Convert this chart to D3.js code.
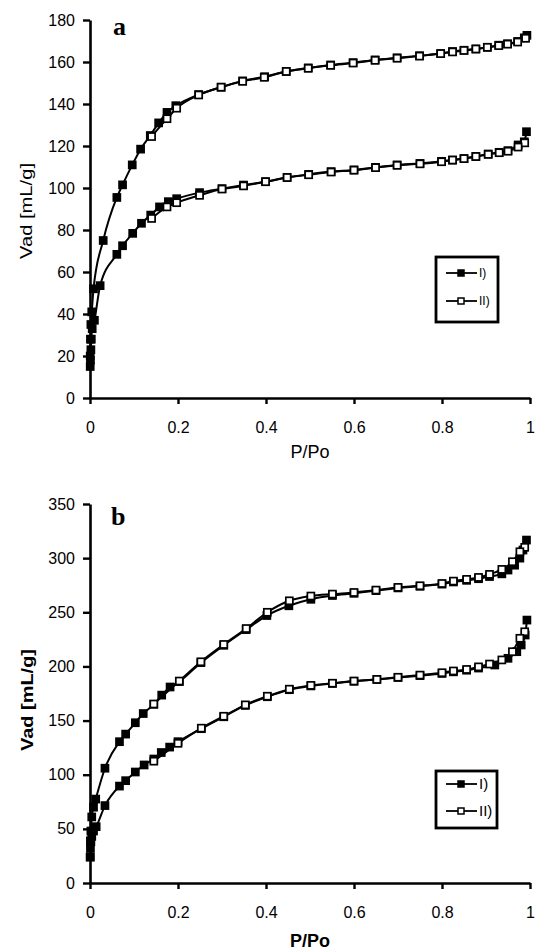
<!DOCTYPE html>
<html>
<head>
<meta charset="utf-8">
<script src="https://cdn.jsdelivr.net/npm/d3@7"></script>
<style>
  body { margin: 0; background: #fff; }
  svg { display: block; }
</style>
</head>
<body>
<div id="chart"></div>
<script>
// ---- panel a ----
const aUpperI_p = [0.0005, 0.001, 0.002, 0.004, 0.008, 0.03, 0.061, 0.074, 0.096, 0.115, 0.137, 0.156, 0.175, 0.195, 0.247, 0.298, 0.347, 0.397, 0.446, 0.496, 0.547, 0.598, 0.648, 0.698, 0.749, 0.797, 0.824, 0.85, 0.877, 0.903, 0.929, 0.949, 0.972, 0.987, 0.993]
const aUpperI_v = [20, 28, 35, 41, 52, 75, 95.5, 101.5, 111, 118.5, 125, 131, 136, 139.2, 144.5, 148, 151, 153, 155.5, 157.2, 158.6, 159.7, 161, 162, 163, 164, 165, 165.6, 166.2, 167, 168, 168.7, 169.8, 171.5, 172.7]
const aUpperII_p = [0.99, 0.972, 0.949, 0.929, 0.903, 0.877, 0.85, 0.824, 0.797, 0.749, 0.698, 0.648, 0.598, 0.547, 0.496, 0.446, 0.396, 0.347, 0.298, 0.247, 0.197, 0.175, 0.14]
const aUpperII_v = [171.3, 169.5, 168.5, 167.8, 167, 166.2, 165.5, 164.8, 164, 162.8, 161.8, 160.8, 159.5, 158.4, 157, 155.5, 152.7, 150.8, 148, 144.3, 138, 133, 124.5]
const aLowerI_p = [0.0005, 0.001, 0.002, 0.003, 0.005, 0.01, 0.023, 0.061, 0.074, 0.097, 0.117, 0.138, 0.158, 0.178, 0.197, 0.249, 0.3, 0.349, 0.399, 0.448, 0.497, 0.548, 0.6, 0.649, 0.698, 0.75, 0.799, 0.824, 0.85, 0.877, 0.905, 0.93, 0.95, 0.973, 0.987, 0.992]
const aLowerI_v = [15, 18, 23, 28, 33, 37, 53.5, 68.4, 72.5, 78.4, 83.2, 87.1, 91, 93.5, 94.9, 97.8, 99.7, 101.4, 103, 105, 106.5, 107.8, 108.6, 109.8, 111, 111.7, 112.7, 113.3, 114, 115, 116.2, 117, 117.8, 120.5, 122, 126.8]
const aLowerII_p = [0.988, 0.973, 0.95, 0.93, 0.905, 0.877, 0.85, 0.824, 0.799, 0.75, 0.698, 0.649, 0.6, 0.548, 0.497, 0.448, 0.399, 0.349, 0.3, 0.249, 0.197, 0.175, 0.14]
const aLowerII_v = [121.5, 119.5, 117.5, 116.8, 116, 115, 114, 113.3, 112.5, 111.5, 110.8, 109.7, 108.5, 107.6, 106.3, 105, 103, 101, 99.5, 96.5, 93, 91, 85.5]
const aYTicks = [0, 20, 40, 60, 80, 100, 120, 140, 160, 180]

// ---- panel b ----
const bUpperI_p = [0.0005, 0.001, 0.002, 0.004, 0.008, 0.013, 0.034, 0.067, 0.081, 0.103, 0.121, 0.145, 0.163, 0.182, 0.203, 0.252, 0.304, 0.355, 0.402, 0.452, 0.502, 0.551, 0.6, 0.65, 0.7, 0.75, 0.8, 0.826, 0.856, 0.883, 0.908, 0.936, 0.95, 0.965, 0.977, 0.984, 0.992]
const bUpperI_v = [24, 39, 48, 61, 70, 77.5, 106, 130.5, 137.5, 148, 156.5, 165, 173.5, 181, 186, 203.5, 219.5, 234, 247, 256, 262, 265.5, 267.5, 270, 272.5, 274, 276, 278, 279.5, 281, 283, 285.5, 289, 293.5, 300, 307.5, 316.7]
const bUpperII_p = [0.988, 0.977, 0.96, 0.936, 0.908, 0.883, 0.856, 0.826, 0.8, 0.75, 0.7, 0.65, 0.6, 0.551, 0.502, 0.453, 0.403, 0.355, 0.304, 0.252, 0.203, 0.145]
const bUpperII_v = [310, 305.9, 296.7, 289.6, 285, 282.2, 280.4, 278.8, 276.6, 274.5, 273, 270.5, 268.3, 266.8, 265, 260.6, 250, 235, 220.3, 204.3, 186.5, 165.3]
const bLowerI_p = [0.0005, 0.001, 0.002, 0.004, 0.008, 0.014, 0.034, 0.067, 0.081, 0.103, 0.123, 0.145, 0.162, 0.181, 0.2, 0.253, 0.304, 0.353, 0.403, 0.453, 0.502, 0.551, 0.6, 0.652, 0.7, 0.75, 0.8, 0.826, 0.856, 0.883, 0.92, 0.95, 0.97, 0.98, 0.989, 0.993]
const bLowerI_v = [24, 32, 38, 43, 48, 52, 71.5, 89.5, 94.5, 102.5, 109, 114.5, 120.5, 125.5, 130.5, 142.5, 153.5, 164, 172, 178.5, 182, 184.3, 186.3, 188, 189.8, 191.5, 193.5, 195, 196.5, 198.5, 201.3, 207.5, 213.6, 219.8, 229, 242.8]
const bLowerII_p = [0.988, 0.977, 0.96, 0.936, 0.908, 0.883, 0.856, 0.826, 0.8, 0.75, 0.7, 0.652, 0.6, 0.551, 0.502, 0.453, 0.403, 0.353, 0.304, 0.253, 0.2, 0.145]
const bLowerII_v = [232, 226, 213.6, 206, 202.2, 199.6, 197.2, 195.8, 194.2, 192, 190, 188, 186.5, 184.5, 182.5, 179, 172.5, 164.5, 154, 143, 129, 112.5]
const bYTicks = [0, 50, 100, 150, 200, 250, 300, 350]

const xTicks = [0, 0.2, 0.4, 0.6, 0.8, 1]
const seriesNames = ["I)", "II)"]

const W = 536, H = 952
const svg = d3.select("#chart").append("svg")
    .attr("width", W)
    .attr("height", H)
svg.append("rect").attr("width", W).attr("height", H).attr("fill", "#fff")

const zip = (ps, vs) => ps.map((p, i) => ({ p: p, v: vs[i] }))

function drawPanel(cfg) {
    const x = d3.scaleLinear().domain([0, 1]).range([90, 530])
    const y = d3.scaleLinear().domain([0, cfg.yMax]).range([cfg.y0, cfg.yTop])
    const g = svg.append("g")

    // x axis
    const xAxis = g.append("g")
        .attr("transform", `translate(0,${cfg.y0})`)
        .call(d3.axisBottom(x).tickValues(xTicks).tickSize(6).tickSizeOuter(0).tickPadding(18)
            .tickFormat(d => d === 0 ? "0" : d === 1 ? "1" : d3.format(".1f")(d)))
    // y axis
    const yAxis = g.append("g")
        .attr("transform", "translate(90,0)")
        .call(d3.axisLeft(y).tickValues(cfg.yTicks).tickSize(7).tickSizeOuter(0).tickPadding(8))

    for (const ax of [xAxis, yAxis]) {
        ax.select(".domain").attr("stroke", "#000").attr("stroke-width", 2.6)
        ax.selectAll(".tick line").attr("stroke", "#000").attr("stroke-width", 2.4)
        ax.selectAll(".tick text")
            .attr("fill", "#000")
            .style("font-family", "'Liberation Sans', Arial, sans-serif")
            .style("font-size", "16px")
    }

    // axis titles
    g.append("text")
        .attr("x", 310).attr("y", cfg.xTitleY)
        .attr("text-anchor", "middle")
        .style("font-family", "'Liberation Sans', Arial, sans-serif")
        .style("font-size", "18px")
        .style("font-weight", cfg.bold ? "bold" : "normal")
        .text("P/Po")
    g.append("text")
        .attr("transform", `translate(${cfg.yTitleX},${cfg.yTitleY}) rotate(-90)`)
        .attr("text-anchor", "middle")
        .attr("textLength", cfg.yTitleLen)
        .attr("lengthAdjust", "spacingAndGlyphs")
        .style("font-family", "'Liberation Sans', Arial, sans-serif")
        .style("font-size", "17px")
        .style("font-weight", cfg.bold ? "bold" : "normal")
        .text("Vad [mL/g]")

    // panel letter
    g.append("text")
        .attr("x", cfg.letterX).attr("y", cfg.letterY)
        .style("font-family", "'Liberation Serif', 'Times New Roman', serif")
        .style("font-size", "26px")
        .style("font-weight", "bold")
        .text(cfg.letter)

    const line = d3.line()
        .x(d => x(d.p))
        .y(d => y(d.v))
        .curve(d3.curveMonotoneX)

    const sorted = arr => arr.slice().sort((a, b) => a.p - b.p)

    // series I (filled) then II (open) on top
    for (const s of cfg.series) {
        g.append("path")
            .datum(sorted(s.data))
            .attr("d", line)
            .attr("fill", "none")
            .attr("stroke", "#000")
            .attr("stroke-width", 2)
    }
    for (const s of cfg.series) {
        g.selectAll(null)
            .data(s.data)
            .enter()
            .append("rect")
            .attr("x", d => x(d.p) - 3.5)
            .attr("y", d => y(d.v) - 3.5)
            .attr("width", 7)
            .attr("height", 7)
            .attr("fill", s.open ? "#fff" : "#000")
            .attr("stroke", "#000")
            .attr("stroke-width", 1.7)
    }

    // legend
    const lg = cfg.legend
    g.append("rect")
        .attr("x", lg.x).attr("y", lg.y)
        .attr("width", lg.w).attr("height", lg.h)
        .attr("fill", "#fff")
        .attr("stroke", "#000")
        .attr("stroke-width", 2.8)
    seriesNames.forEach((name, i) => {
        const cy = lg.y + lg.rows[i]
        g.append("line")
            .attr("x1", lg.x + 10).attr("x2", lg.x + 41)
            .attr("y1", cy).attr("y2", cy)
            .attr("stroke", "#000").attr("stroke-width", 1.8)
        g.append("rect")
            .attr("x", lg.x + 22).attr("y", cy - 3)
            .attr("width", 6).attr("height", 6)
            .attr("fill", i === 0 ? "#000" : "#fff")
            .attr("stroke", "#000").attr("stroke-width", 1.5)
        g.append("text")
            .attr("x", lg.x + 43).attr("y", cy)
            .attr("dy", "0.35em")
            .style("font-family", "'Liberation Sans', Arial, sans-serif")
            .style("font-size", lg.font)
            .text(name)
    })
}

drawPanel({
    yMax: 180, y0: 398, yTop: 20, yTicks: aYTicks,
    xTitleY: 458, yTitleX: 32, yTitleY: 211, yTitleLen: 96,
    letter: "a", letterX: 113, letterY: 35, bold: false,
    series: [
        { data: zip(aUpperI_p, aUpperI_v), open: false },
        { data: zip(aLowerI_p, aLowerI_v), open: false },
        { data: zip(aUpperII_p, aUpperII_v), open: true },
        { data: zip(aLowerII_p, aLowerII_v), open: true }
    ],
    legend: { x: 436, y: 257, w: 62, h: 65, rows: [16, 44], font: "12px" }
})

drawPanel({
    yMax: 350, y0: 883, yTop: 504, yTicks: bYTicks,
    xTitleY: 947, yTitleX: 33, yTitleY: 700, yTitleLen: 102,
    letter: "b", letterX: 111, letterY: 525, bold: true,
    series: [
        { data: zip(bUpperI_p, bUpperI_v), open: false },
        { data: zip(bLowerI_p, bLowerI_v), open: false },
        { data: zip(bUpperII_p, bUpperII_v), open: true },
        { data: zip(bLowerII_p, bLowerII_v), open: true }
    ],
    legend: { x: 436, y: 771, w: 61, h: 57, rows: [13, 40], font: "15px" }
})
</script>
</body>
</html>
